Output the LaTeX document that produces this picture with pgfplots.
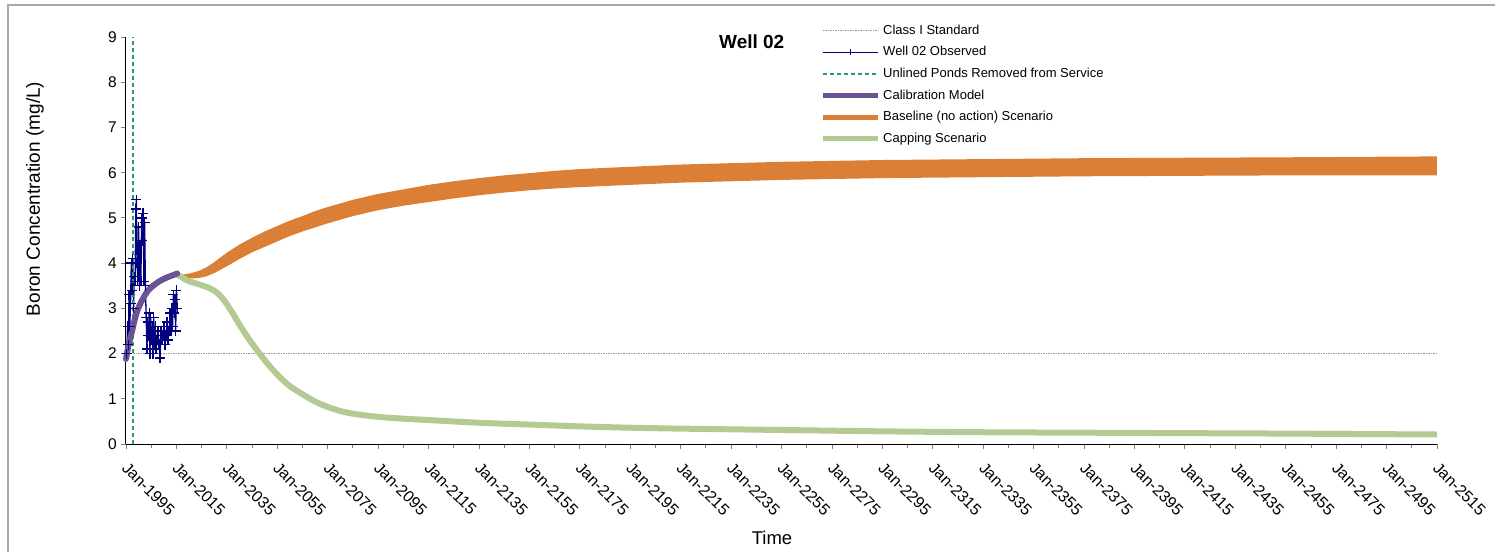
\documentclass[border=0pt]{standalone}
\usepackage{pgfplots}
\pgfplotsset{compat=1.18}
\usepackage{fontspec}
\setmainfont{Liberation Sans}

\definecolor{obsblue}{RGB}{0,0,128}
\definecolor{pondgreen}{RGB}{46,154,92}
\definecolor{calpurple}{RGB}{107,83,148}
\definecolor{baseorange}{RGB}{218,127,53}
\definecolor{capgreen}{RGB}{179,203,146}
\definecolor{stdgray}{RGB}{150,150,150}
\definecolor{framegray}{RGB}{170,170,170}

\begin{document}
\begin{tikzpicture}
\useasboundingbox (-126bp,-108bp) rectangle (1369bp,444bp);
\draw[framegray, line width=1.2bp] (-118bp,-110bp) -- (-118bp,439bp) -- (1371bp,439bp);
\begin{axis}[
  scale only axis,
  width=1311bp, height=407bp,
  xmin=1995, xmax=2515, ymin=0, ymax=9,
  axis x line*=bottom, axis y line*=left,
  axis line style={black, line width=1bp, -},
  xtick={1995,2015,...,2515},
  xticklabels={Jan-1995,Jan-2015,Jan-2035,Jan-2055,Jan-2075,Jan-2095,Jan-2115,Jan-2135,Jan-2155,Jan-2175,Jan-2195,Jan-2215,Jan-2235,Jan-2255,Jan-2275,Jan-2295,Jan-2315,Jan-2335,Jan-2355,Jan-2375,Jan-2395,Jan-2415,Jan-2435,Jan-2455,Jan-2475,Jan-2495,Jan-2515},
  minor x tick num=1,
  ytick={0,1,...,9},
  tick align=outside,
  major tick length=5bp, minor tick length=3.5bp,
  every tick/.style={gray, line width=0.8bp},
  /pgf/number format/assume math mode=true,
  xticklabel style={font=\fontsize{16bp}{18bp}\selectfont, inner sep=0pt,
    anchor=north west, xshift=3bp, yshift=-12bp, rotate=-45},
  yticklabel style={font=\fontsize{15.5bp}{18bp}\selectfont, inner sep=0pt, xshift=-4bp},
  xlabel={Time},
  xlabel style={font=\fontsize{18.5bp}{22bp}\selectfont, at={(axis description cs:0.4928,-0.231)}, anchor=center},
  ylabel={Boron Concentration (mg/L)},
  ylabel style={font=\fontsize{19bp}{22bp}\selectfont, at={(axis description cs:-0.0694,0.602)}, anchor=center, rotate=0},
  legend style={draw=none, fill=none, inner sep=0pt, at={(0.5294,1.0315)}, anchor=north west,
    font=\fontsize{13bp}{15bp}\selectfont, row sep=8.6bp, column sep=3bp,
    nodes={inner sep=0pt, text height=10bp, text depth=3bp}},
  legend cell align=left,
  legend image code/.code={\draw[mark repeat=2,mark phase=2,#1] plot coordinates {(0bp,0bp) (27.5bp,0bp) (55bp,0bp)};},
  clip=false,
]

% legend entries, in display order
\addlegendimage{stdgray, line width=0.8bp, dash pattern=on 1.5bp off 1bp}
\addlegendentry{Class I Standard}
\addlegendimage{obsblue, line width=1.3bp, mark=+, mark size=3bp}
\addlegendentry{Well 02 Observed}
\addlegendimage{pondgreen, line width=1.6bp, dash pattern=on 4bp off 3bp}
\addlegendentry{Unlined Ponds Removed from Service}
\addlegendimage{calpurple, line width=5bp}
\addlegendentry{Calibration Model}
\addlegendimage{baseorange, line width=5bp}
\addlegendentry{Baseline (no action) Scenario}
\addlegendimage{capgreen, line width=5bp}
\addlegendentry{Capping Scenario}

% Class I standard (2 mg/L)
\addplot[forget plot, stdgray, line width=0.8bp, dash pattern=on 1.5bp off 1bp]
  coordinates {(1995,2) (2515,2)};

% baseline scenario: band between the upper and lower envelope
\addplot[forget plot, draw=none, fill=baseorange] coordinates {
 (2015,3.74) (2018,3.75) (2021,3.78) (2024,3.83) (2027,3.91) (2030,4.02)
 (2035,4.23) (2040,4.41) (2045,4.56) (2050,4.70) (2055,4.82) (2060,4.94)
 (2065,5.04) (2070,5.15) (2075,5.24) (2085,5.40) (2095,5.53) (2105,5.63)
 (2115,5.73) (2125,5.81) (2135,5.88) (2145,5.94) (2155,5.99) (2165,6.04)
 (2175,6.08) (2195,6.13) (2215,6.18) (2235,6.21) (2255,6.24) (2275,6.26)
 (2295,6.28) (2335,6.30) (2375,6.32) (2415,6.33) (2455,6.34) (2515,6.36)
 (2515,5.94) (2455,5.94) (2415,5.93) (2375,5.92) (2335,5.90) (2295,5.88)
 (2275,5.86) (2255,5.84) (2235,5.81) (2215,5.78) (2195,5.73) (2175,5.68)
 (2165,5.65) (2155,5.61) (2145,5.56) (2135,5.50) (2125,5.43) (2115,5.35)
 (2105,5.27) (2095,5.17) (2085,5.04) (2075,4.88) (2070,4.79) (2065,4.70)
 (2060,4.60) (2055,4.48) (2050,4.36) (2045,4.24) (2040,4.09) (2035,3.93)
 (2030,3.78) (2027,3.71) (2024,3.67) (2021,3.66) (2018,3.67) (2015,3.70)
};

% capping scenario
\addplot[forget plot, capgreen, line width=6bp, line join=round, smooth] coordinates {
 (2015.5,3.74) (2017,3.69) (2020,3.60) (2024,3.53) (2028,3.45) (2031,3.35)
 (2034,3.17) (2037,2.92) (2040,2.64) (2044,2.30) (2048,2.00) (2052,1.72)
 (2056,1.48) (2060,1.28) (2065,1.10) (2070,0.94) (2075,0.82) (2080,0.73)
 (2085,0.67) (2095,0.60) (2105,0.56) (2115,0.53) (2135,0.47) (2155,0.43)
 (2175,0.39) (2195,0.36) (2215,0.34) (2255,0.31) (2295,0.28) (2335,0.26)
 (2375,0.25) (2415,0.24) (2455,0.23) (2515,0.21)
};

% observed concentrations
\addplot[forget plot, obsblue, line width=1.3bp, mark=+, mark size=5bp,
  mark options={line width=1.3bp}] coordinates {
 (1995.3,2.0) (1995.6,2.6) (1995.9,2.2) (1996.2,3.3) (1996.5,2.6) (1996.8,3.1)
 (1997.1,4.0) (1997.4,3.4) (1997.7,4.1) (1998.0,3.0) (1998.3,3.7) (1998.6,3.6)
 (1998.9,5.2) (1999.1,5.4) (1999.4,4.0) (1999.7,3.6) (2000.0,4.8) (2000.3,3.5)
 (2000.6,4.4) (2000.9,3.6) (2001.2,5.0) (2001.5,4.5) (2001.8,5.1) (2002.1,3.6)
 (2002.4,4.9) (2002.7,3.5) (2003.0,2.8) (2003.3,2.1) (2003.6,2.7) (2003.9,2.4)
 (2004.2,2.9) (2004.5,2.0) (2004.8,2.8) (2005.1,2.3) (2005.4,2.6) (2005.7,2.0)
 (2006.0,2.8) (2006.3,2.2) (2006.6,2.6) (2006.9,2.1) (2007.3,2.3) (2007.7,2.5)
 (2008.1,2.2) (2008.5,1.9) (2008.9,2.5) (2009.3,2.3) (2009.7,2.4) (2010.1,2.6)
 (2010.5,2.2) (2010.9,2.4) (2011.3,2.7) (2011.7,2.3) (2012.1,2.5) (2012.5,2.9)
 (2012.9,2.5) (2013.2,3.0) (2013.5,2.6) (2013.8,3.3) (2014.1,2.9) (2014.4,3.2)
 (2014.7,2.5) (2015.0,3.4) (2015.3,3.0)
};

% date the unlined ponds were taken out of service
\addplot[forget plot, pondgreen, line width=1.6bp, dash pattern=on 4bp off 3bp]
  coordinates {(1997.75,0) (1997.75,9)};

% calibration model
\addplot[forget plot, calpurple, line width=6bp, line cap=round, smooth] coordinates {
 (1995.0,1.88) (1996,2.18) (1997.4,2.50) (1998.5,2.76) (1999.5,2.95)
 (2001,3.14) (2002.5,3.29) (2004,3.41) (2006,3.51) (2008,3.59) (2010,3.65)
 (2012,3.70) (2014,3.74) (2015.3,3.77)
};

\node[font=\bfseries\fontsize{19bp}{22bp}\selectfont] at (axis cs:2243.2,8.9) {Well 02};
\end{axis}
\end{tikzpicture}
\end{document}
